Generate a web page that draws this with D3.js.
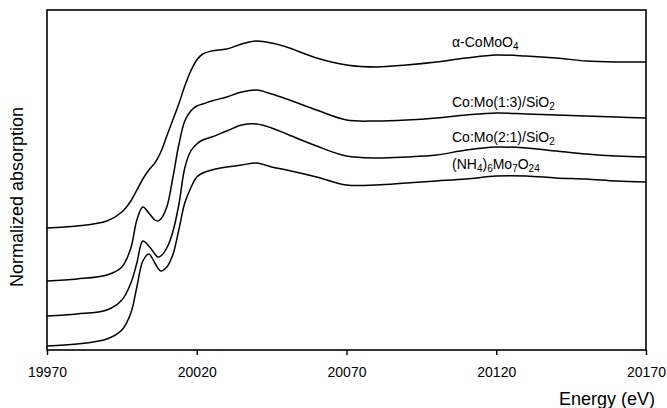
<!DOCTYPE html>
<html>
<head>
<meta charset="utf-8">
<script src="https://cdn.jsdelivr.net/npm/d3@7/dist/d3.min.js"></script>
<style>
  html, body { margin: 0; padding: 0; background: #fff; }
  svg { display: block; font-family: "Liberation Sans", Arial, sans-serif; }
</style>
</head>
<body>
<svg id="chart" width="667" height="408"></svg>
<script>
// Mo K-edge XANES spectra, vertically offset for clarity
const energy = [19970, 19980, 19990, 19995, 19998, 20000, 20002, 20004, 20006, 20007, 20008,
  20010, 20012, 20014, 20016, 20018, 20020, 20022, 20025, 20030, 20035, 20040, 20045, 20050,
  20060, 20070, 20080, 20090, 20100, 20110, 20120, 20130, 20140, 20150, 20160, 20170];

const alphaCoMoO4 = [1.22, 1.24, 1.29, 1.38, 1.49, 1.60, 1.71, 1.80, 1.87, 1.92, 1.98,
  2.14, 2.30, 2.46, 2.64, 2.79, 2.90, 2.96, 2.99, 3.01, 3.06, 3.09, 3.07, 3.03,
  2.92, 2.85, 2.83, 2.85, 2.88, 2.92, 2.95, 2.94, 2.92, 2.89, 2.88, 2.88];

const coMo13 = [0.69, 0.71, 0.75, 0.83, 1.02, 1.30, 1.43, 1.37, 1.30, 1.29, 1.31,
  1.43, 1.72, 2.05, 2.29, 2.39, 2.44, 2.46, 2.49, 2.53, 2.58, 2.60, 2.56, 2.51,
  2.40, 2.30, 2.29, 2.30, 2.32, 2.35, 2.37, 2.36, 2.35, 2.34, 2.33, 2.32];

const coMo21 = [0.34, 0.36, 0.40, 0.50, 0.67, 0.87, 1.09, 1.04, 0.96, 0.93, 0.94,
  1.02, 1.18, 1.45, 1.82, 1.99, 2.06, 2.10, 2.13, 2.19, 2.25, 2.26, 2.22, 2.16,
  2.04, 1.94, 1.92, 1.93, 1.95, 2.00, 2.03, 2.02, 1.99, 1.96, 1.94, 1.93];

const ammoniumMolybdate = [0.04, 0.06, 0.11, 0.20, 0.37, 0.63, 0.89, 0.96, 0.87, 0.82, 0.79,
  0.83, 0.95, 1.20, 1.47, 1.62, 1.73, 1.77, 1.80, 1.83, 1.85, 1.87, 1.83, 1.80,
  1.73, 1.65, 1.65, 1.67, 1.69, 1.71, 1.74, 1.74, 1.72, 1.71, 1.69, 1.68];

const seriesValues = [alphaCoMoO4, coMo13, coMo21, ammoniumMolybdate];

// Sample labels as [text, isSubscript] runs
const seriesLabels = [
  [["α-CoMoO", false], ["4", true]],
  [["Co:Mo(1:3)/SiO", false], ["2", true]],
  [["Co:Mo(2:1)/SiO", false], ["2", true]],
  [["(NH", false], ["4", true], [")", false], ["6", true], ["Mo", false], ["7", true], ["O", false], ["24", true]]
];
const labelBaselines = [47, 107, 141.5, 168.5];

const xTicks = [19970, 20020, 20070, 20120, 20170];
const xTitle = "Energy (eV)";
const yTitle = "Normalized absorption";

const svg = d3.select("#chart");
const plot = { left: 47, right: 646, top: 10, bottom: 350 };

const x = d3.scaleLinear().domain([19970, 20170]).range([plot.left, plot.right]);
const y = d3.scaleLinear().domain([0, 3.4]).range([plot.bottom, plot.top]);

// spectra
const line = d3.line()
  .x((d, i) => x(energy[i]))
  .y(d => y(d))
  .curve(d3.curveCatmullRom.alpha(0.5));

svg.append("g")
  .selectAll("path")
  .data(seriesValues)
  .join("path")
  .attr("d", line)
  .attr("fill", "none")
  .attr("stroke", "#000")
  .attr("stroke-width", 1.5);

// frame
svg.append("rect")
  .attr("x", plot.left).attr("y", plot.top)
  .attr("width", plot.right - plot.left).attr("height", plot.bottom - plot.top)
  .attr("fill", "none").attr("stroke", "#000").attr("stroke-width", 1.6);

// x axis
const xAxis = svg.append("g")
  .attr("transform", `translate(0,${plot.bottom})`)
  .call(d3.axisBottom(x).tickValues(xTicks).tickFormat(d3.format("d"))
    .tickSize(5).tickPadding(12));
xAxis.select(".domain").remove();
xAxis.selectAll("line").attr("stroke", "#000").attr("stroke-width", 1.4);
xAxis.selectAll("text")
  .attr("fill", "#000")
  .style("font-family", "'Liberation Sans', Arial, sans-serif")
  .style("font-size", "14px");

// axis titles
svg.append("text")
  .attr("x", 655).attr("y", 405)
  .attr("text-anchor", "end")
  .style("font-size", "18px")
  .text(xTitle);

svg.append("text")
  .attr("transform", "translate(23,197) rotate(-90)")
  .attr("text-anchor", "middle")
  .style("font-size", "18px")
  .text(yTitle);

// series labels with subscripts
seriesLabels.forEach((runs, i) => {
  const t = svg.append("text")
    .attr("x", 452).attr("y", labelBaselines[i])
    .style("font-size", "14px");
  let sub = false;
  runs.forEach(([str, isSub]) => {
    const ts = t.append("tspan").text(str);
    if (isSub) ts.style("font-size", "10px");
    if (isSub && !sub) ts.attr("dy", 3);
    else if (!isSub && sub) ts.attr("dy", -3);
    sub = isSub;
  });
});
</script>
</body>
</html>
